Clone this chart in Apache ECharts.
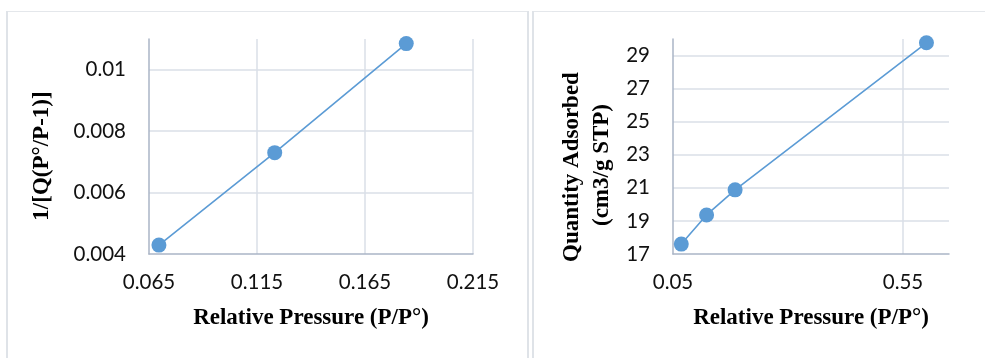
<!DOCTYPE html>
<html>
<head>
<meta charset="utf-8">
<style>
  html, body { margin: 0; padding: 0; background: #ffffff; }
  #chart { width: 985px; height: 358px; }
</style>
<script src="https://cdn.jsdelivr.net/npm/echarts@6/dist/echarts.min.js"></script>
</head>
<body>
<div id="chart"></div>
<script>
// BET plot: relative pressure vs 1/[Q(P°/P-1)]
const betPressure = [0.0696, 0.1232, 0.1841];
const betValue = [0.00429, 0.0073, 0.01085];

// Isotherm: relative pressure vs quantity adsorbed
const isoPressure = [0.068, 0.123, 0.185, 0.601];
const isoQuantity = [17.6, 19.36, 20.88, 29.77];

// Axis tick settings
const betXTicks = { min: 0.065, max: 0.215, interval: 0.05 };
const betYTicks = { min: 0.004, max: 0.011, interval: 0.002 };
const isoXTicks = { min: 0.05, max: 0.65, interval: 0.5 };
const isoYTicks = { min: 17, max: 30, interval: 2 };

const xTitle = 'Relative Pressure (P/P°)';
const betYTitle = '1/[Q(P°/P-1)]';
const isoYTitle = ['Quantity Adsorbed', '(cm3/g STP)'];

const blue = '#5B9BD5';
const gridColor = '#dadfe7';
const axisColor = '#aab5c6';
const tickFont = { fontFamily: 'Lato', fontSize: 20.5, color: '#111111' };
const titleFont = 'bold 23px "Liberation Serif"';

function pairs(xs, ys) { return xs.map((x, i) => [x, ys[i]]); }

function valueAxis(ticks, gridIndex, fmt, margin) {
  return {
    type: 'value', gridIndex,
    min: ticks.min, max: ticks.max, interval: ticks.interval,
    axisLine: { show: true, onZero: false, lineStyle: { color: axisColor, width: 1.5 } },
    axisTick: { show: false },
    axisLabel: Object.assign({ margin, showMaxLabel: false, formatter: fmt }, tickFont),
    splitLine: { show: true, showMinLine: false, showMaxLine: false, lineStyle: { color: gridColor, width: 1.5 } }
  };
}

const trim = d => v => String(parseFloat(v.toFixed(d)));

const chart = echarts.init(document.getElementById('chart'), null, { renderer: 'canvas' });

const betX = valueAxis(betXTicks, 0, trim(3), 18);
betX.axisLabel.showMaxLabel = true;
betX.splitLine.showMaxLine = true;

chart.setOption({
  animation: false,
  backgroundColor: '#ffffff',
  grid: [
    { left: 149, right: 512, top: 39, bottom: 104 },
    { left: 673, right: 36, top: 39, bottom: 104 }
  ],
  xAxis: [
    betX,
    valueAxis(isoXTicks, 1, trim(2), 18)
  ],
  yAxis: [
    valueAxis(betYTicks, 0, trim(3), 23),
    valueAxis(isoYTicks, 1, trim(0), 23)
  ],
  series: [
    {
      type: 'line', xAxisIndex: 0, yAxisIndex: 0,
      data: pairs(betPressure, betValue),
      symbol: 'circle', symbolSize: 15, clip: false,
      lineStyle: { color: blue, width: 1.6 },
      itemStyle: { color: blue }
    },
    {
      type: 'line', xAxisIndex: 1, yAxisIndex: 1,
      data: pairs(isoPressure, isoQuantity),
      symbol: 'circle', symbolSize: 15, clip: false,
      lineStyle: { color: blue, width: 1.6 },
      itemStyle: { color: blue }
    }
  ],
  graphic: [
    // panel frames
    { type: 'rect', shape: { x: 6, y: 11, width: 2, height: 360 }, style: { fill: '#dfe3e8' }, silent: true },
    { type: 'rect', shape: { x: 8, y: 11, width: 519, height: 1 }, style: { fill: '#e4e7eb' }, silent: true },
    { type: 'rect', shape: { x: 527, y: 11, width: 2, height: 360 }, style: { fill: '#dfe3e8' }, silent: true },
    { type: 'rect', shape: { x: 532, y: 11, width: 2, height: 360 }, style: { fill: '#dfe3e8' }, silent: true },
    { type: 'rect', shape: { x: 534, y: 11, width: 460, height: 1 }, style: { fill: '#e4e7eb' }, silent: true },
    // axis titles
    { type: 'text', x: 311, y: 318, style: { text: xTitle, font: titleFont, fill: '#000', align: 'center', verticalAlign: 'middle' } },
    { type: 'text', x: 811, y: 318, style: { text: xTitle, font: titleFont, fill: '#000', align: 'center', verticalAlign: 'middle' } },
    { type: 'text', x: 42, y: 156, rotation: Math.PI / 2, style: { text: betYTitle, font: titleFont, fill: '#000', align: 'center', verticalAlign: 'middle' } },
    { type: 'text', x: 572, y: 167, rotation: Math.PI / 2, style: { text: isoYTitle[0], font: titleFont, fill: '#000', align: 'center', verticalAlign: 'middle' } },
    { type: 'text', x: 602, y: 165, rotation: Math.PI / 2, style: { text: isoYTitle[1], font: titleFont, fill: '#000', align: 'center', verticalAlign: 'middle' } }
  ]
});
</script>
</body>
</html>
